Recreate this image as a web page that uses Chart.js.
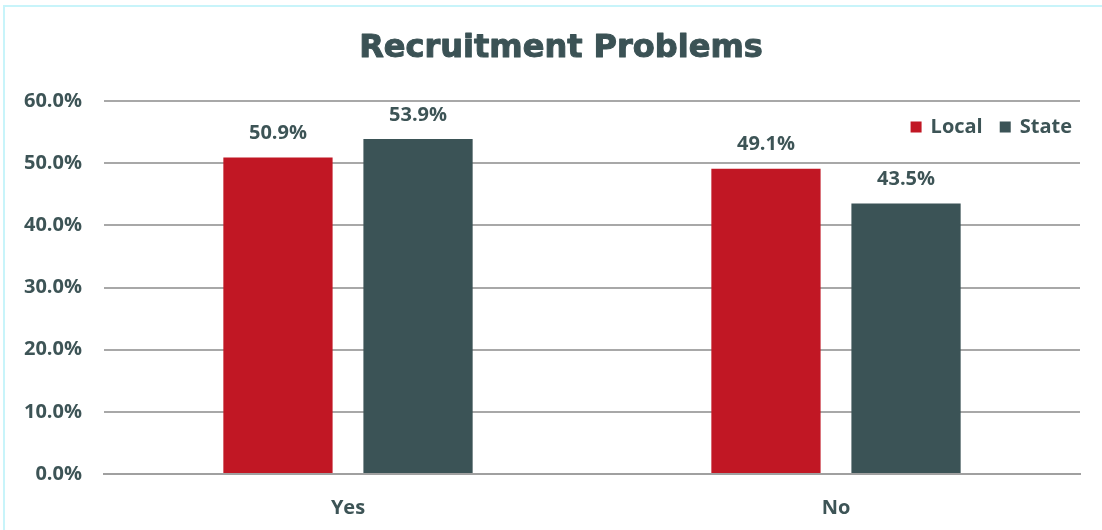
<!DOCTYPE html>
<html>
<head>
<meta charset="utf-8">
<script src="https://cdn.jsdelivr.net/npm/chart.js@4/dist/chart.umd.min.js"></script>
<style>
  html, body { margin: 0; padding: 0; background: #ffffff; }
  #wrap { position: absolute; left: 0; top: 0; width: 1102px; height: 530px; overflow: hidden; }
  #frame { position: absolute; left: 3px; top: 5px; width: 1110px; height: 540px; border: 2px solid #c8f4fa; box-sizing: border-box; }
  canvas { position: absolute; left: 0; top: 0; }
</style>
</head>
<body>
<div id="wrap">
  <div id="frame"></div>
  <canvas id="c" width="1102" height="530"></canvas>
</div>
<script>
const categories = ["Yes", "No"];
const seriesNames = ["Local", "State"];
const localValues = [50.9, 49.1];
const stateValues = [53.9, 43.5];
const yTicks = [0, 10, 20, 30, 40, 50, 60];
const titleText = "Recruitment Problems";

const TEXT = "#3d5456";
const LABEL_FONT = "bold 20px 'Open Sans'";

const dataLabels = {
  id: "dataLabels",
  afterDatasetsDraw(chart) {
    const ctx = chart.ctx;
    ctx.save();
    ctx.font = LABEL_FONT;
    ctx.fillStyle = TEXT;
    ctx.textAlign = "center";
    ctx.textBaseline = "middle";
    chart.data.datasets.forEach((ds, i) => {
      const meta = chart.getDatasetMeta(i);
      meta.data.forEach((el, j) => {
        ctx.fillText(ds.data[j].toFixed(1) + "%", el.x, el.y - 24);
      });
    });
    ctx.restore();
  }
};

const customTitle = {
  id: "customTitle",
  afterDraw(chart) {
    const ctx = chart.ctx;
    ctx.save();
    ctx.font = "bold 32px 'DejaVu Sans'";
    ctx.fillStyle = "#3b5255";
    ctx.strokeStyle = "#3b5255";
    ctx.lineWidth = 1;
    ctx.lineJoin = "round";
    ctx.textAlign = "center";
    ctx.textBaseline = "middle";
    ctx.fillText(titleText, 561, 49);
    ctx.strokeText(titleText, 561, 49);
    ctx.restore();
  }
};

const customLegend = {
  id: "customLegend",
  afterDraw(chart) {
    const ctx = chart.ctx;
    const area = chart.chartArea;
    ctx.save();
    ctx.font = "bold 20px 'Open Sans'";
    ctx.textBaseline = "middle";
    ctx.textAlign = "left";
    const box = 11, gap = 9, spacing = 17;
    const items = chart.data.datasets.map(ds => ({ text: ds.label, color: ds.backgroundColor, w: ctx.measureText(ds.label).width }));
    let total = 0;
    items.forEach((it, i) => { total += box + gap + it.w + (i ? spacing : 0); });
    let x = area.right - 8 - total;
    const y = area.top + 26;
    items.forEach(it => {
      ctx.fillStyle = it.color;
      ctx.fillRect(x, y - box / 2, box, box);
      ctx.fillStyle = TEXT;
      ctx.fillText(it.text, x + box + gap, y);
      x += box + gap + it.w + spacing;
    });
    ctx.restore();
  }
};

new Chart(document.getElementById("c"), {
  type: "bar",
  data: {
    labels: categories,
    datasets: [
      { label: seriesNames[0], data: localValues, backgroundColor: "#c11724", borderWidth: 0 },
      { label: seriesNames[1], data: stateValues, backgroundColor: "#3b5356", borderWidth: 0 }
    ]
  },
  options: {
    responsive: false,
    animation: false,
    devicePixelRatio: 1,
    layout: { padding: { left: 0, right: 22, top: 101, bottom: 0 } },
    datasets: { bar: { categoryPercentage: 0.574, barPercentage: 0.78 } },
    plugins: {
      title: { display: false },
      legend: { display: false },
      tooltip: { enabled: false }
    },
    scales: {
      x: {
        grid: { display: false, drawTicks: false },
        border: { display: true, color: "#a0a0a0", width: 2 },
        ticks: { color: TEXT, font: { family: "'Open Sans'", size: 20, weight: "bold" }, padding: 22 },
        afterFit(scale) { scale.height = 56; }
      },
      y: {
        min: 0,
        max: 60,
        afterBuildTicks(scale) { scale.ticks = yTicks.map(v => ({ value: v })); },
        grid: { color: "#a8a8a8", lineWidth: 2, drawTicks: false },
        border: { display: false },
        ticks: {
          color: TEXT,
          font: { family: "'Open Sans'", size: 20, weight: "bold" },
          padding: 22,
          callback: v => Number(v).toFixed(1) + "%"
        },
        afterFit(scale) { scale.width = 104; }
      }
    }
  },
  plugins: [dataLabels, customTitle, customLegend]
});
</script>
</body>
</html>
